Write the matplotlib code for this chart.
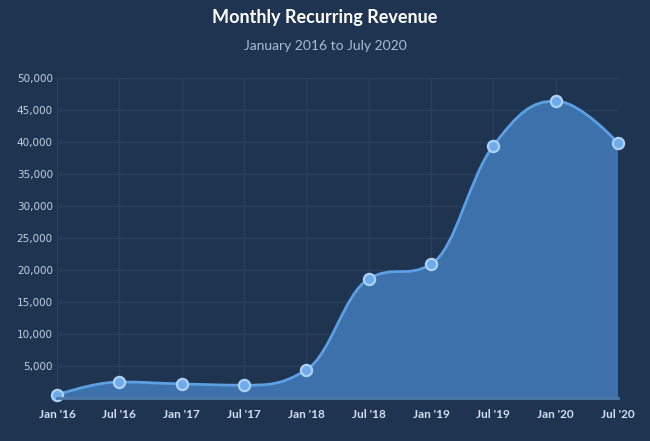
import matplotlib
matplotlib.use("Agg")
import matplotlib.pyplot as plt
from matplotlib.path import Path
from matplotlib.patches import PathPatch
import numpy as np

categories = ["Jan '16", "Jul '16", "Jan '17", "Jul '17", "Jan '18",
              "Jul '18", "Jan '19", "Jul '19", "Jan '20", "Jul '20"]
revenue = [500, 2500, 2200, 2000, 4400, 18600, 20900, 39400, 46400, 39800]
y_ticks = [5000, 10000, 15000, 20000, 25000, 30000, 35000, 40000, 45000, 50000]
title = "Monthly Recurring Revenue"
subtitle = "January 2016 to July 2020"

BG = "#1f3451"
GRID = "#283f5d"
FILL = "#3c71ab"
LINE = "#5c9fe2"
MARK = "#6fabea"
MARK_EDGE = "#acd2f8"


def spline_path(xs, ys, smoothing=1.5):
    n = len(xs)
    denom = smoothing + 1
    right = [None] * n
    verts = [(xs[0], ys[0])]
    codes = [Path.MOVETO]
    for i in range(1, n):
        px, py = xs[i], ys[i]
        lcx, lcy = px, py
        if i < n - 1:
            lx, ly = xs[i - 1], ys[i - 1]
            nx, ny = xs[i + 1], ys[i + 1]
            lcx = (smoothing * px + lx) / denom
            lcy = (smoothing * py + ly) / denom
            rcx = (smoothing * px + nx) / denom
            rcy = (smoothing * py + ny) / denom
            corr = 0
            if rcx != lcx:
                corr = (rcy - lcy) * (rcx - px) / (rcx - lcx) + py - rcy
            lcy += corr
            rcy += corr
            if lcy > ly and lcy > py:
                lcy = max(ly, py); rcy = 2 * py - lcy
            elif lcy < ly and lcy < py:
                lcy = min(ly, py); rcy = 2 * py - lcy
            if rcy > ny and rcy > py:
                rcy = max(ny, py); lcy = 2 * py - rcy
            elif rcy < ny and rcy < py:
                rcy = min(ny, py); lcy = 2 * py - rcy
            right[i] = (rcx, rcy)
        prev = right[i - 1] if right[i - 1] is not None else (xs[i - 1], ys[i - 1])
        verts += [prev, (lcx, lcy), (px, py)]
        codes += [Path.CURVE4] * 3
    return verts, codes


fig = plt.figure(figsize=(6.5, 4.41), dpi=100, facecolor=BG)
ax = fig.add_axes([57 / 650, 1 - 398 / 441, 561 / 650, 320 / 441])
ax.set_facecolor(BG)

x = np.arange(len(categories))
verts, codes = spline_path(list(x.astype(float)), list(map(float, revenue)))

# area
fill_verts = verts + [(x[-1], 0), (x[0], 0), verts[0]]
fill_codes = codes + [Path.LINETO, Path.LINETO, Path.CLOSEPOLY]
ax.add_patch(PathPatch(Path(fill_verts, fill_codes), facecolor=FILL,
                       edgecolor="none", zorder=2))
ax.add_patch(PathPatch(Path(verts, codes), facecolor="none", edgecolor=LINE,
                       lw=2, zorder=3))
ax.scatter(x, revenue, s=65, color=MARK, edgecolors=MARK_EDGE,
           linewidths=1.6, zorder=4, clip_on=False)

ax.set_xlim(0, len(categories) - 1)
ax.set_ylim(0, 50000)
ax.set_yticks(y_ticks)
ax.set_yticklabels([f"{v:,}" for v in y_ticks])
ax.set_xticks(x)
ax.set_xticklabels(categories)
ax.grid(True, color=GRID, lw=1, zorder=0)
ax.set_axisbelow(True)
for s in ["top", "right", "left"]:
    ax.spines[s].set_visible(False)
ax.spines["bottom"].set_color("#4d78a6")
ax.spines["bottom"].set_linewidth(2)
ax.spines["bottom"].set_zorder(5)
ax.tick_params(axis="both", length=0)
ax.tick_params(axis="y", pad=3, labelsize=7.5, labelcolor="#c3d0e2")
ax.tick_params(axis="x", pad=8, labelsize=8.5, labelcolor="#d3deee")
for lbl in ax.get_xticklabels():
    lbl.set_fontfamily("Lato")
    lbl.set_fontweight("bold")
for lbl in ax.get_yticklabels():
    lbl.set_fontfamily("DejaVu Sans")

fig.text(0.5, 1 - 18 / 441, title, ha="center", va="center", color="white",
         fontsize=13, fontweight="bold", fontfamily="Lato")
fig.text(0.5, 1 - 46 / 441, subtitle, ha="center", va="center",
         color="#a8bcd5", fontsize=10, fontfamily="Lato")

fig.savefig("out.png", dpi=100, facecolor=BG)
